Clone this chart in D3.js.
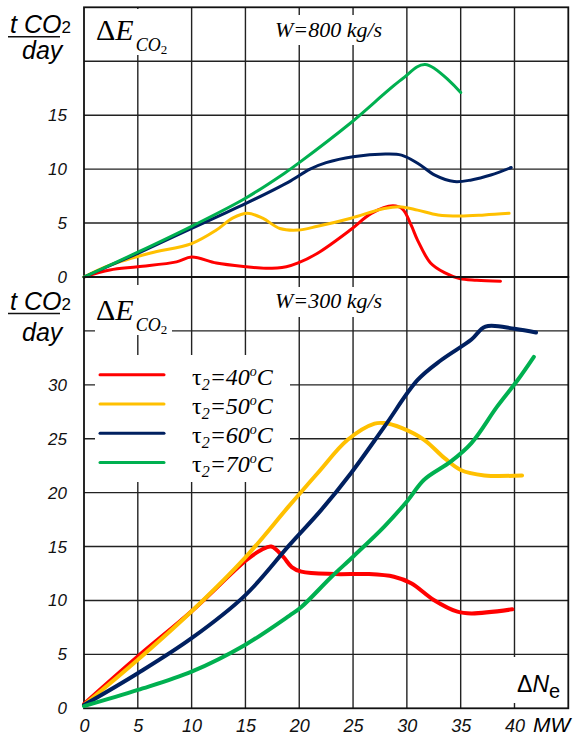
<!DOCTYPE html>
<html>
<head>
<meta charset="utf-8">
<script src="https://cdn.jsdelivr.net/npm/d3@7"></script>
<style>
  body { margin: 0; background: #fff; }
  svg { display: block; }
</style>
</head>
<body>
<div id="chart"></div>
<script>
// x axis (MW) shared by both panels
const xTicks = [0, 5, 10, 15, 20, 25, 30, 35, 40];
const xGrid = [5, 10, 15, 20, 25, 30, 35, 40];

// W = 800 kg/s (upper panel)
const topYTicks = [0, 5, 10, 15];
const topYGrid = [5, 10, 15, 20];
const top40x = [0, 2.4, 5, 8.6, 10, 12.3, 15.1, 16.9, 18.8, 19.9, 21.7, 24.8, 26.7, 28.7, 29.6, 30.4, 31.0, 32.2, 33.5, 34.9, 36.5, 38.7];
const top40y = [0, 0.65, 0.95, 1.4, 1.85, 1.3, 0.95, 0.8, 0.95, 1.3, 2.2, 4.4, 5.9, 6.6, 6.3, 4.8, 3.4, 1.3, 0.4, -0.15, -0.3, -0.4];
const top50x = [0, 2.4, 6.1, 10, 12.3, 13.8, 15.2, 16.6, 18.2, 19.9, 21.7, 24.8, 27.9, 29.5, 31, 32.9, 34.9, 37.2, 39.5];
const top50y = [0, 1.1, 2.2, 3.1, 4.35, 5.45, 5.9, 5.45, 4.5, 4.35, 4.7, 5.45, 6.35, 6.5, 6.2, 5.75, 5.65, 5.75, 5.9];
const top60x = [0, 5, 10, 15, 19, 21, 22.5, 25, 28, 29.5, 31, 32.6, 34.4, 36, 37.8, 39.7];
const top60y = [0, 2.2, 4.5, 6.8, 8.8, 10.0, 10.6, 11.15, 11.4, 11.3, 10.55, 9.45, 8.85, 9.0, 9.45, 10.15];
const top70x = [0, 5, 10, 15, 18.6, 20, 24.8, 29.5, 31.7, 35];
const top70y = [0, 2.3, 4.7, 7.3, 9.6, 10.6, 14.3, 18.3, 19.7, 17.1];

// W = 300 kg/s (lower panel)
const botYTicks = [0, 5, 10, 15, 20, 25, 30];
const botYGrid = [5, 10, 15, 20, 25, 30, 35];
const bot40x = [0, 5, 10, 15.1, 16.5, 17.4, 18.5, 19.3, 20.2, 23.3, 26.4, 28.8, 30.4, 32.5, 34.7, 36, 39.8];
const bot40y = [0.4, 4.8, 9.0, 13.75, 14.7, 15.0, 14.06, 13.1, 12.67, 12.45, 12.45, 12.2, 11.6, 10.05, 8.96, 8.8, 9.18];
const bot50x = [0, 5, 10, 15, 19, 21.7, 24.5, 27, 27.9, 29.5, 31.6, 33.5, 35, 37.2, 40.7];
const bot50y = [0.3, 4.5, 9.0, 14.0, 18.7, 21.8, 24.9, 26.4, 26.45, 26.0, 24.9, 23.2, 22.1, 21.6, 21.6];
const bot60x = [0, 5, 10, 15, 19.1, 22.05, 24.8, 27.9, 31, 33.2, 36, 37.3, 40, 42];
const bot60y = [0.3, 3.25, 6.5, 10.5, 15.15, 18.4, 21.8, 26.1, 30.45, 32.3, 34.2, 35.4, 35.2, 34.85];
const bot70x = [0, 5, 10, 15, 19.1, 20.2, 23, 25, 27.9, 30.1, 31.6, 34.1, 36, 38.4, 40.3, 41.8];
const bot70y = [0.2, 1.7, 3.4, 5.9, 8.6, 9.4, 12.2, 14.06, 16.85, 19.3, 21.2, 22.9, 24.6, 28.0, 30.45, 32.6];

const seriesNames = ["40", "50", "60", "70"];
const colors = ["#ff0000", "#ffc000", "#002060", "#00b050"];

const width = 575, height = 738;
const sans = "'Liberation Sans', Arial, sans-serif";
const serif = "'Liberation Serif', 'Times New Roman', serif";

const x = d3.scaleLinear().domain([0, 45]).range([84, 568.3]);
const yTop = d3.scaleLinear().domain([0, 25]).range([277, 7.3]);
const yBot = d3.scaleLinear().domain([0, 40]).range([708.3, 277]);

const svg = d3.select("#chart").append("svg")
  .attr("width", width)
  .attr("height", height);

function zip(xs, ys) { return xs.map((d, i) => [d, ys[i]]); }

function drawPanel(y, yGrid, yTicks, series, lw, boxes) {
  const g = svg.append("g");

  // grid
  g.selectAll(".vg").data(xGrid).join("line")
    .attr("x1", d => x(d)).attr("x2", d => x(d))
    .attr("y1", y.range()[0]).attr("y2", y.range()[1])
    .attr("stroke", "#222").attr("stroke-width", 1.4);
  g.selectAll(".hg").data(yGrid).join("line")
    .attr("x1", x.range()[0]).attr("x2", x.range()[1])
    .attr("y1", d => y(d)).attr("y2", d => y(d))
    .attr("stroke", "#222").attr("stroke-width", 1.4);

  // white boxes behind the labels
  boxes.forEach(b => {
    g.append("rect").attr("x", b[0]).attr("y", b[1])
      .attr("width", b[2]).attr("height", b[3]).attr("fill", "#fff");
  });

  // frame
  g.append("rect")
    .attr("x", x.range()[0]).attr("y", y.range()[1])
    .attr("width", x.range()[1] - x.range()[0])
    .attr("height", y.range()[0] - y.range()[1])
    .attr("fill", "none").attr("stroke", "#111").attr("stroke-width", 1.8);

  // y tick labels
  const ax = g.append("g")
    .attr("transform", `translate(${x.range()[0]},0)`)
    .call(d3.axisLeft(y).tickValues(yTicks).tickSize(0).tickPadding(17));
  ax.select(".domain").remove();
  ax.selectAll("text")
    .style("font-family", sans).style("font-style", "italic")
    .style("font-size", "17px").style("fill", "#111");

  const line = d3.line()
    .x(d => x(d[0])).y(d => y(d[1]))
    .curve(d3.curveCatmullRom.alpha(0.5));

  series.forEach((s, i) => {
    g.append("path")
      .attr("d", line(s))
      .attr("fill", "none")
      .attr("stroke", colors[i])
      .attr("stroke-width", lw)
      .attr("stroke-linecap", "round")
      .attr("stroke-linejoin", "round");
  });
  return g;
}

drawPanel(yTop, topYGrid, topYTicks,
  [zip(top40x, top40y), zip(top50x, top50y), zip(top60x, top60y), zip(top70x, top70y)],
  3, [[94, 9, 78, 46], [272, 15, 116, 30]]);

drawPanel(yBot, botYGrid, botYTicks,
  [zip(bot40x, bot40y), zip(bot50x, bot50y), zip(bot60x, bot60y), zip(bot70x, bot70y)],
  4, [[95, 285, 77, 50], [272, 287, 116, 30], [95, 355, 195, 127], [495, 657, 72, 46]]);

// x tick labels
const xa = svg.append("g")
  .attr("transform", `translate(0,${yBot.range()[0]})`)
  .call(d3.axisBottom(x).tickValues(xTicks).tickSize(0).tickPadding(11));
xa.select(".domain").remove();
xa.selectAll("text")
  .style("font-family", sans).style("font-style", "italic")
  .style("font-size", "18px").style("fill", "#111");

svg.append("text").attr("x", 533).attr("y", 732)
  .style("font-family", sans).style("font-style", "italic").style("font-size", "21px")
  .text("MW");

// unit labels t CO2 / day and ΔE_CO2
function unitLabel(top, dy) {
  const t = svg.append("text").attr("x", 10).attr("y", top)
    .style("font-family", sans).style("font-style", "italic").style("font-size", "25px");
  t.append("tspan").text("t CO");
  t.append("tspan").style("font-size", "17px").style("font-style", "normal").text("2");
  svg.append("line").attr("x1", 8).attr("x2", 60)
    .attr("y1", top + 3.5).attr("y2", top + 3.5)
    .attr("stroke", "#111").attr("stroke-width", 1.5);
  svg.append("text").attr("x", 22).attr("y", top + dy)
    .style("font-family", sans).style("font-style", "italic").style("font-size", "25px")
    .text("day");
}
unitLabel(33.3, 26);
unitLabel(310, 31);

function deltaE(base) {
  const t = svg.append("text").attr("x", 96).attr("y", base)
    .style("font-family", serif).style("font-size", "30px");
  t.append("tspan").text("Δ");
  t.append("tspan").style("font-style", "italic").text("E");
  t.append("tspan").attr("dx", 2).attr("dy", 11).style("font-style", "italic").style("font-size", "18px").text("CO");
  t.append("tspan").attr("dy", 3).style("font-size", "13px").text("2");
}
deltaE(40);
deltaE(320);

svg.append("text").attr("x", 275).attr("y", 36.7)
  .style("font-family", serif).style("font-style", "italic").style("font-size", "22px")
  .text("W=800 kg/s");
svg.append("text").attr("x", 275).attr("y", 308.3)
  .style("font-family", serif).style("font-style", "italic").style("font-size", "22px")
  .text("W=300 kg/s");

// ΔNe
const dn = svg.append("text").attr("x", 517).attr("y", 691.7)
  .style("font-family", sans).style("font-size", "23px");
dn.append("tspan").text("Δ");
dn.append("tspan").style("font-style", "italic").text("N");
dn.append("tspan").attr("dy", 6).style("font-size", "20px").text("e");

// legend
const legY = d3.scaleBand().domain(seriesNames).range([360, 477]);
const leg = svg.append("g");
seriesNames.forEach((n, i) => {
  const cy = legY(n) + legY.bandwidth() / 2;
  leg.append("line").attr("x1", 100).attr("x2", 164)
    .attr("y1", cy).attr("y2", cy)
    .attr("stroke", colors[i]).attr("stroke-width", 3).attr("stroke-linecap", "round");
  const t = leg.append("text").attr("x", 192).attr("y", cy + 10)
    .style("font-family", serif).style("font-size", "24px");
  t.append("tspan").text("τ");
  t.append("tspan").attr("dy", 5).style("font-style", "italic").style("font-size", "16px").text("2");
  t.append("tspan").attr("dy", -5).style("font-style", "italic").text("=" + n);
  t.append("tspan").attr("dy", -9).style("font-style", "italic").style("font-size", "14px").text("o");
  t.append("tspan").attr("dy", 9).style("font-style", "italic").text("C");
});
</script>
</body>
</html>
